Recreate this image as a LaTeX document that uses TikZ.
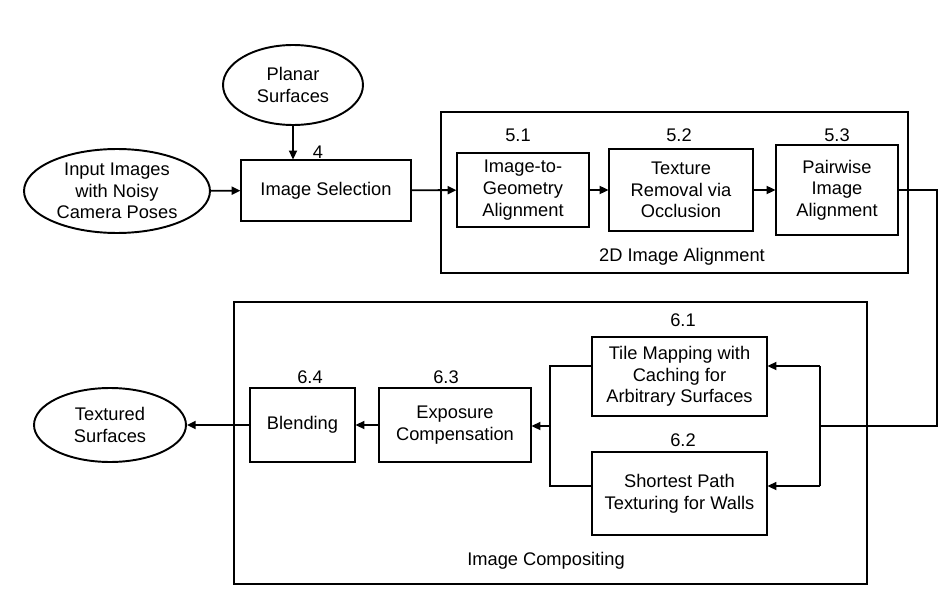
\documentclass[tikz,border=0pt]{standalone}
\usepackage{fontspec}
\setmainfont{Liberation Sans}
\usetikzlibrary{arrows.meta,shapes.geometric}
\begin{document}
\begin{tikzpicture}[x=0.02cm,y=-0.02cm,
  every node/.style={font=\fontsize{10.4}{12.3}\selectfont, align=center, inner sep=0pt},
  stepbox/.style={draw, line width=0.6pt, rectangle},
  blob/.style={draw, line width=1.1pt, ellipse},
  frame/.style={draw, line width=1.1pt, rectangle},
  link/.style={line width=1.1pt},
  arr/.style={link, -{Triangle[length=5pt,width=4.5pt]}},
  tag/.style={}]
\useasboundingbox (0,0) rectangle (947,608);

% group frames
\node[frame, minimum width=9.34cm, minimum height=3.22cm] (align) at (674.5,192.5) {};
\node[frame, minimum width=12.66cm, minimum height=5.64cm] (comp) at (550.5,443) {};
\node (alignlbl) at (682,257) {2D Image Alignment};
\node (complbl) at (546,561) {Image Compositing};

% inputs and output
\node[blob, minimum width=2.8cm, minimum height=1.6cm] (planar) at (293,85) {Planar\\Surfaces};
\node[blob, minimum width=3.72cm, minimum height=1.68cm] (input) at (117,191) {Input Images\\with Noisy\\Camera Poses};
\node[blob, minimum width=3.04cm, minimum height=1.48cm] (textured) at (110,425) {Textured\\Surfaces};

% processing steps
\node[stepbox, minimum width=3.4cm, minimum height=1.22cm] (sel) at (326,190.5) {Image Selection};
\node[stepbox, minimum width=2.64cm, minimum height=1.48cm] (s51) at (523,190) {Image-to-\\Geometry\\Alignment};
\node[stepbox, minimum width=2.88cm, minimum height=1.64cm] (s52) at (681,190) {Texture\\Removal via\\Occlusion};
\node[stepbox, minimum width=2.44cm, minimum height=1.8cm] (s53) at (837,190) {Pairwise\\Image\\Alignment};
\node[stepbox, minimum width=3.5cm, minimum height=1.58cm] (s61) at (679.5,376.5) {Tile Mapping with\\Caching for\\Arbitrary Surfaces};
\node[stepbox, minimum width=3.5cm, minimum height=1.66cm] (s62) at (679.5,493.5) {Shortest Path\\Texturing for Walls};
\node[stepbox, minimum width=3.04cm, minimum height=1.48cm] (s63) at (455,425) {Exposure\\Compensation};
\node[stepbox, minimum width=2.1cm, minimum height=1.48cm] (s64) at (302.5,425) {Blending};

% section numbers
\node[tag] (n4) at (318,152) {4};
\node[tag] (n51) at (518,135) {5.1};
\node[tag] (n52) at (679,135) {5.2};
\node[tag] (n53) at (837,135) {5.3};
\node[tag] (n61) at (683,320) {6.1};
\node[tag] (n62) at (683,440) {6.2};
\node[tag] (n63) at (446,377) {6.3};
\node[tag] (n64) at (310,377) {6.4};

% routing points
\coordinate (r1) at (937,190);
\coordinate (r2) at (937,426);
\coordinate (jm) at (820,426);
\coordinate (jt) at (820,366);
\coordinate (jb) at (820,486);
\coordinate (kt) at (550,366);
\coordinate (km) at (550,426);
\coordinate (kb) at (550,486);

% connectors
\draw[arr] (planar.south) -- (planar.south |- sel.north);
\draw[arr] (input) -- (sel);
\draw[arr] (sel) -- (s51);
\draw[arr] (s51) -- (s52);
\draw[arr] (s52) -- (s53);
\draw[link] (s53.east) -- (r1) -- (r2) -- (jm);
\draw[link] (jt) -- (jb);
\draw[arr] (jt) -- (s61.east |- jt);
\draw[arr] (jb) -- (s62.east |- jb);
\draw[link] (s61.west |- kt) -- (kt) -- (kb) -- (s62.west |- kb);
\draw[arr] (km) -- (s63.east |- km);
\draw[arr] (s63) -- (s64);
\draw[arr] (s64) -- (textured);
\end{tikzpicture}
\end{document}
